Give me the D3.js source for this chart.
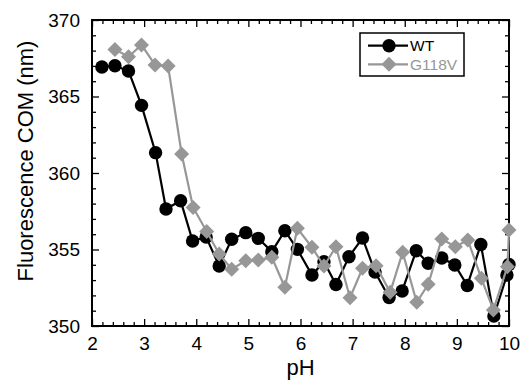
<!DOCTYPE html>
<html><head><meta charset="utf-8">
<script src="https://cdn.jsdelivr.net/npm/d3@7"></script>
<style>body{margin:0;background:#fff}svg{display:block;font-family:"Liberation Sans",Arial,sans-serif}</style>
</head><body><svg id="c" width="521" height="382"></svg>
<script>
const wtPH = [2.19,2.44,2.70,2.95,3.22,3.42,3.70,3.93,4.19,4.44,4.68,4.95,5.19,5.45,5.70,5.94,6.22,6.45,6.68,6.93,7.19,7.43,7.70,7.95,8.22,8.45,8.71,8.96,9.20,9.46,9.71,9.96,10.0];
const wtCOM = [366.93,367.01,366.67,364.42,361.33,357.65,358.19,355.56,355.82,353.92,355.67,356.10,355.73,354.86,356.23,355.01,353.33,354.20,352.71,354.53,355.75,353.53,351.86,352.29,354.92,354.10,354.44,353.99,352.65,355.33,350.65,353.33,354.02];
const mutPH = [2.44,2.70,2.95,3.21,3.46,3.72,3.94,4.20,4.44,4.68,4.95,5.19,5.45,5.70,5.94,6.22,6.45,6.68,6.95,7.19,7.45,7.72,7.96,8.23,8.45,8.71,8.97,9.21,9.47,9.70,9.97,10.0];
const mutCOM = [368.08,367.60,368.37,367.06,366.99,361.24,357.75,356.18,354.71,353.71,354.27,354.31,354.49,352.53,356.39,355.14,353.92,355.18,351.85,353.77,353.94,352.20,354.82,351.55,352.73,355.69,355.18,355.62,353.12,351.05,353.88,356.27];
const xTicks = [2,3,4,5,6,7,8,9,10];
const yTicks = [350,355,360,365,370];
const seriesNames = ["WT","G118V"];
const colors = ["#000000","#979797"];

const svg = d3.select("#c");
const L=92, R=509, T=20, B=326;
const x = d3.scaleLinear().domain([2,10]).range([L,R]);
const y = d3.scaleLinear().domain([350,370]).range([B,T]);

const xMinor = d3.range(2,10.001,0.2).filter(v=>Math.abs(v-Math.round(v))>1e-6);
const yMinor = d3.range(350,370.001,1).filter(v=>v%5!==0);

function styleAxis(g){ g.select(".domain").remove(); g.selectAll("line").attr("stroke","#000").attr("stroke-width",1.3); g.selectAll("text").attr("fill","#000").style("font-size","19px").style("font-family","'Liberation Sans',Arial,sans-serif"); }

svg.append("g").attr("transform",`translate(0,${B})`).call(d3.axisBottom(x).tickValues(xTicks).tickSizeInner(-7).tickSizeOuter(0).tickPadding(6).tickFormat(d3.format("d"))).call(styleAxis).selectAll("text").attr("dy","0.95em");
svg.append("g").attr("transform",`translate(0,${B})`).call(d3.axisBottom(x).tickValues(xMinor).tickSize(-4).tickFormat("")).call(styleAxis);
svg.append("g").attr("transform",`translate(0,${T})`).call(d3.axisTop(x).tickValues(xTicks).tickSize(-7).tickFormat("")).call(styleAxis);
svg.append("g").attr("transform",`translate(0,${T})`).call(d3.axisTop(x).tickValues(xMinor).tickSize(-4).tickFormat("")).call(styleAxis);
svg.append("g").attr("transform",`translate(${L},0)`).call(d3.axisLeft(y).tickValues(yTicks).tickSizeInner(-7).tickSizeOuter(0).tickPadding(12).tickFormat(d3.format("d"))).call(styleAxis);
svg.append("g").attr("transform",`translate(${L},0)`).call(d3.axisLeft(y).tickValues(yMinor).tickSize(-4).tickFormat("")).call(styleAxis);
svg.append("g").attr("transform",`translate(${R},0)`).call(d3.axisRight(y).tickValues(yTicks).tickSize(-7).tickFormat("")).call(styleAxis);
svg.append("g").attr("transform",`translate(${R},0)`).call(d3.axisRight(y).tickValues(yMinor).tickSize(-4).tickFormat("")).call(styleAxis);

svg.append("rect").attr("x",L).attr("y",T).attr("width",R-L).attr("height",B-T).attr("fill","none").attr("stroke","#000").attr("stroke-width",2);

svg.append("text").attr("x",(L+R)/2).attr("y",375).attr("text-anchor","middle").style("font-size","22px").text("pH");
svg.append("text").attr("transform","translate(33,161) rotate(-90)").attr("text-anchor","middle").style("font-size","22px").text("Fluorescence COM (nm)");

const diamond = "M0,-7.5L7.5,0L0,7.5L-7.5,0Z";
const line = d3.line().x(d=>x(d[0])).y(d=>y(d[1]));
const wt = wtPH.map((p,i)=>[p,wtCOM[i]]);
const mut = mutPH.map((p,i)=>[p,mutCOM[i]]);

svg.append("path").datum(wt).attr("d",line).attr("fill","none").attr("stroke",colors[0]).attr("stroke-width",2.2);
svg.append("g").selectAll("circle").data(wt).join("circle").attr("cx",d=>x(d[0])).attr("cy",d=>y(d[1])).attr("r",6.7).attr("fill",colors[0]);
svg.append("path").datum(mut).attr("d",line).attr("fill","none").attr("stroke",colors[1]).attr("stroke-width",2.2);
svg.append("g").selectAll("path").data(mut).join("path").attr("d",diamond).attr("transform",d=>`translate(${x(d[0])},${y(d[1])})`).attr("fill",colors[1]);

const lg = svg.append("g");
lg.append("rect").attr("x",360).attr("y",33).attr("width",104).attr("height",43).attr("fill","#fff").attr("stroke","#000").attr("stroke-width",1.5);
const ly=[45.7,64.3];
seriesNames.forEach((n,i)=>{
  lg.append("line").attr("x1",368).attr("x2",408).attr("y1",ly[i]).attr("y2",ly[i]).attr("stroke",colors[i]).attr("stroke-width",2.2);
  if(i===0) lg.append("circle").attr("cx",389).attr("cy",ly[i]).attr("r",6.7).attr("fill",colors[i]);
  else lg.append("path").attr("d",diamond).attr("transform",`translate(389,${ly[i]})`).attr("fill",colors[i]);
  lg.append("text").attr("x",410).attr("y",ly[i]).attr("dy","0.36em").style("font-size","15.5px").attr("fill",colors[i]).text(n);
});
</script></body></html>
